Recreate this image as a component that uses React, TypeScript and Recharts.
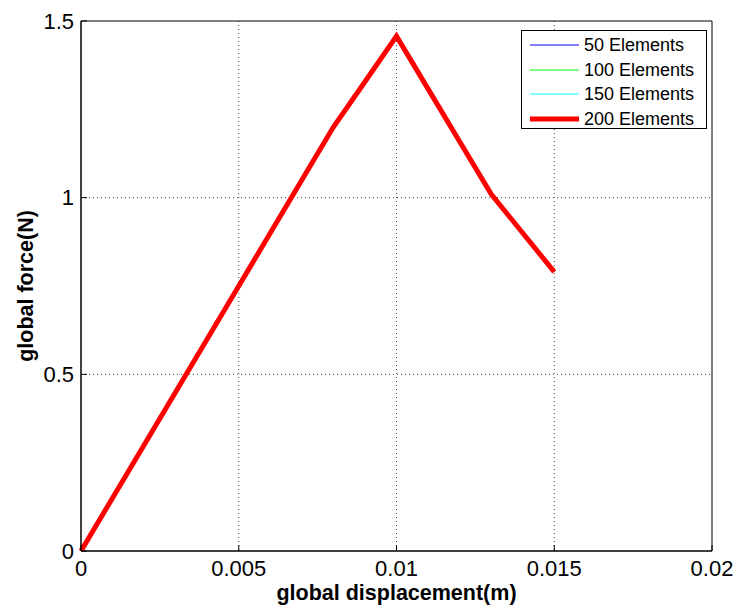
import React from 'react';
import { LineChart, Line, XAxis, YAxis, CartesianGrid, ReferenceArea } from 'recharts';

const displacement = [0, 0.001, 0.002, 0.003, 0.004, 0.005, 0.006, 0.007, 0.008, 0.009, 0.01, 0.011, 0.012, 0.013, 0.014, 0.015];
const force50 = [0, 0.15, 0.3, 0.45, 0.6, 0.75, 0.9, 1.05, 1.2, 1.328, 1.457, 1.308, 1.159, 1.01, 0.9, 0.79];
const force100 = [0, 0.15, 0.3, 0.45, 0.6, 0.75, 0.9, 1.05, 1.2, 1.328, 1.457, 1.308, 1.159, 1.01, 0.9, 0.79];
const force150 = [0, 0.15, 0.3, 0.45, 0.6, 0.75, 0.9, 1.05, 1.2, 1.328, 1.457, 1.308, 1.159, 1.01, 0.9, 0.79];
const force200 = [0, 0.15, 0.3, 0.45, 0.6, 0.75, 0.9, 1.05, 1.2, 1.328, 1.457, 1.308, 1.159, 1.01, 0.9, 0.79];

const xTicks = [0, 0.005, 0.01, 0.015, 0.02];
const yTicks = [0, 0.5, 1, 1.5];

const seriesInfo = [
  { key: 'e50', name: '50 Elements', color: '#0000ff', width: 1 },
  { key: 'e100', name: '100 Elements', color: '#00ff00', width: 1 },
  { key: 'e150', name: '150 Elements', color: '#00ffff', width: 1 },
  { key: 'e200', name: '200 Elements', color: '#ff0000', width: 5 },
];

const data = displacement.map((x, i) => ({
  x,
  e50: force50[i],
  e100: force100[i],
  e150: force150[i],
  e200: force200[i],
}));

const FONT = 'Arial, "Liberation Sans", Helvetica, sans-serif';

// legend drawn over the plot, top right, like the matlab box
const LegendBox = () => (
  <div
    style={{
      position: 'absolute',
      left: 521,
      top: 30,
      width: 186,
      height: 99,
      border: '1px solid #000',
      background: '#fff',
      boxSizing: 'border-box',
      paddingTop: 2,
      fontFamily: FONT,
      fontSize: 18,
      color: '#000',
    }}
  >
    {seriesInfo.map((s) => (
      <div key={s.key} style={{ display: 'flex', alignItems: 'center', height: 24.6 }}>
        <svg width={62} height={10} style={{ flex: 'none' }}>
          <line x1={8} x2={57} y1={5} y2={5} stroke={s.color} strokeWidth={s.width} />
        </svg>
        <span style={{ lineHeight: '20px' }}>{s.name}</span>
      </div>
    ))}
  </div>
);

const fmt = (v: number) => String(v);
const blank = () => '';

export default function App() {
  return (
    <div style={{ position: 'absolute', left: 0, top: 0, width: 740, height: 611, background: '#fff' }}>
      <LineChart width={740} height={611} data={data} margin={{ top: 21, right: 28, bottom: 0, left: 0 }}>
        <CartesianGrid stroke="#444" strokeDasharray="1 3" horizontalValues={[0.5, 1]} verticalValues={[0.005, 0.01, 0.015]} />
        <XAxis
          dataKey="x"
          type="number"
          domain={[0, 0.02]}
          ticks={xTicks}
          tickFormatter={fmt}
          height={60}
          stroke="#000"
          tickSize={-6}
          tickMargin={15}
          tick={{ fill: '#000', fontSize: 22, fontFamily: FONT }}
          label={{ value: 'global displacement(m)', position: 'insideBottom', offset: 11, fill: '#000', fontSize: 21.5, fontWeight: 'bold', fontFamily: FONT }}
        />
        <XAxis
          xAxisId="top"
          orientation="top"
          dataKey="x"
          type="number"
          domain={[0, 0.02]}
          ticks={xTicks}
          tickFormatter={blank}
          height={0}
          axisLine={false}
          stroke="#000"
          tickSize={-6}
        />
        <YAxis
          type="number"
          domain={[0, 1.5]}
          ticks={yTicks}
          tickFormatter={fmt}
          width={81}
          stroke="#000"
          tickSize={-6}
          tickMargin={13}
          tick={{ fill: '#000', fontSize: 22, fontFamily: FONT }}
          label={{ value: 'global force(N)', angle: -90, position: 'insideLeft', offset: 25, style: { textAnchor: 'middle' }, fill: '#000', fontSize: 21.5, fontWeight: 'bold', fontFamily: FONT }}
        />
        <YAxis
          yAxisId="right"
          orientation="right"
          type="number"
          domain={[0, 1.5]}
          ticks={yTicks}
          tickFormatter={blank}
          width={0}
          axisLine={false}
          stroke="#000"
          tickSize={-6}
        />
        <ReferenceArea x1={0} x2={0.02} y1={0} y2={1.5} fill="none" stroke="#000" strokeWidth={1} ifOverflow="visible" />
        {seriesInfo.map((s) => (
          <Line
            key={s.key}
            dataKey={s.key}
            name={s.name}
            stroke={s.color}
            strokeWidth={s.width}
            dot={false}
            type="linear"
            isAnimationActive={false}
          />
        ))}
      </LineChart>
      <LegendBox />
    </div>
  );
}
